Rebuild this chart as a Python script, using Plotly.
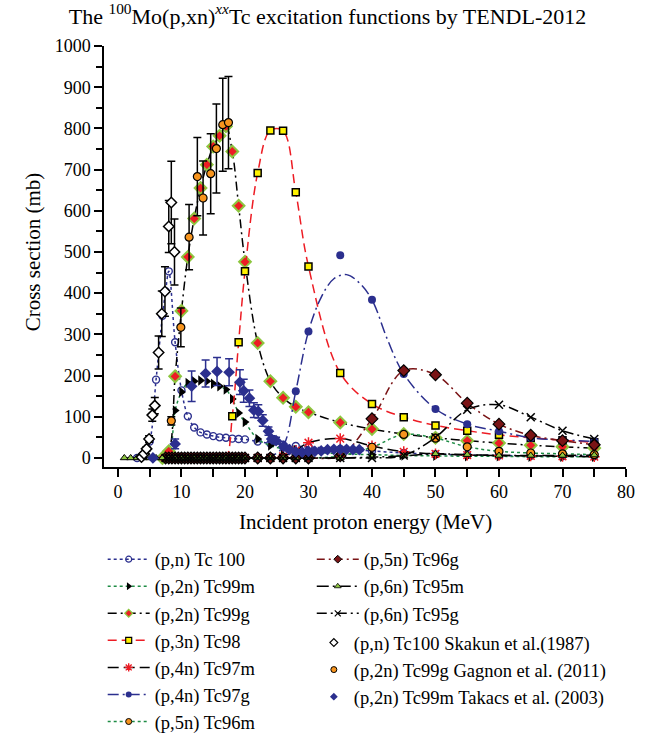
import plotly.graph_objects as go

FONT = "Liberation Serif, Times New Roman, DejaVu Serif, serif"

# ---------------- TENDL-2012 calculations ----------------
E_tc100 = [3, 4, 5, 6, 7, 7.5, 8, 9, 10, 11, 12, 13, 14, 15, 16, 17, 18, 19, 20, 22, 24, 26, 28, 30, 35, 40, 45, 50, 55, 60, 65, 70, 75]
S_tc100 = [0, 5, 40, 190, 345, 405, 453, 281, 164, 101, 74, 62, 57, 53, 50, 49, 47, 46, 45, 40, 35, 32, 29, 27, 22, 17, 12, 9, 7, 6, 5, 4, 4]

E_tc99m = [7, 8, 9, 10, 11, 12, 13, 14, 15, 16, 17, 18, 19, 20, 22, 24, 26, 28, 30, 35, 40, 45, 50, 55, 60, 65, 70, 75]
S_tc99m = [0, 5, 115, 160, 182, 186, 188, 186, 180, 174, 166, 143, 109, 87, 46, 30, 22, 18, 15, 10, 8, 6, 5, 4, 4, 3, 3, 3]

E_tc99g = [7, 8, 9, 10, 11, 12, 13, 14, 15, 16, 17, 18, 19, 20, 22, 24, 26, 28, 30, 35, 40, 45, 50, 55, 60, 65, 70, 75]
S_tc99g = [0, 16, 198, 357, 488, 581, 655, 712, 756, 782, 805, 744, 612, 476, 279, 186, 146, 124, 111, 86, 70, 58, 49, 42, 36, 31, 27, 24]

E_tc98 = [8, 9, 10, 11, 12, 13, 14, 15, 16, 17, 18, 19, 20, 22, 24, 26, 28, 30, 35, 40, 45, 50, 55, 60, 65, 70, 75]
S_tc98 = [0, 0, 0, 0, 0, 0, 0, 0, 0, 0, 101, 281, 453, 692, 795, 794, 645, 465, 206, 131, 99, 79, 66, 56, 49, 43, 38]

E_tc97m = [8, 9, 10, 11, 12, 13, 14, 15, 16, 17, 18, 19, 20, 22, 24, 26, 28, 30, 35, 40, 45, 50, 55, 60, 65, 70, 75]
S_tc97m = [0, 0, 0, 0, 0, 0, 0, 0, 0, 0, 0, 0, 0, 0, 0, 4, 18, 37, 47, 29, 15, 10, 7, 6, 5, 4, 3]

E_tc97g = [8, 9, 10, 11, 12, 13, 14, 15, 16, 17, 18, 19, 20, 22, 24, 26, 28, 30, 35, 40, 45, 50, 55, 60, 65, 70, 75]
S_tc97g = [0, 0, 0, 0, 0, 0, 0, 0, 0, 0, 0, 0, 0, 0, 3, 28, 162, 307, 492, 384, 204, 119, 82, 65, 49, 44, 40]
# smoothed TENDL curve drawn through the Tc97g points
E_tc97g_curve = [20, 22, 24, 26, 28, 30, 32, 34, 36, 38, 40, 42.5, 45, 50, 55, 60, 65, 70, 75]
S_tc97g_curve = [0, 0, 3, 28, 162, 307, 390, 435, 445, 425, 384, 285, 204, 119, 82, 65, 49, 44, 40]

E_tc96m = [8, 9, 10, 11, 12, 13, 14, 15, 16, 17, 18, 19, 20, 22, 24, 26, 28, 30, 35, 40, 45, 50, 55, 60, 65, 70, 75]
S_tc96m = [0, 0, 0, 0, 0, 0, 0, 0, 0, 0, 0, 0, 0, 0, 0, 0, 0, 0, 5, 26, 57, 48, 27, 16, 12, 10, 8]

E_zero_fine = [7.5, 8, 8.5, 9, 9.5, 10, 10.5, 11, 11.5, 12, 12.5, 13, 13.5, 14, 14.5, 15, 15.5, 16, 16.5, 17, 17.5, 18, 18.5, 19, 19.5, 20]

E_tc96g = E_zero_fine + [22, 24, 26, 28, 30, 35, 40, 45, 50, 55, 60, 65, 70, 75]
S_tc96g = [0] * len(E_zero_fine) + [0, 0, 0, 0, 0, 5, 95, 212, 202, 133, 82, 55, 42, 32]

E_tc95m = [1, 2, 3, 4, 5, 6, 7, 8, 9, 10, 11, 12, 13, 14, 15, 16, 17, 18, 19, 20, 22, 24, 26, 28, 30, 35, 40, 45, 50, 55, 60, 65, 70, 75]
S_tc95m = [0, 0, 0, 0, 0, 0, 0, 0, 0, 0, 0, 0, 0, 0, 0, 0, 0, 0, 0, 0, 0, 0, 0, 0, 0, 0, 2, 5, 10, 8, 6, 6, 6, 7]

E_tc95g = E_zero_fine + [22, 24, 26, 28, 30, 35, 40, 45, 50, 55, 60, 65, 70, 75]
S_tc95g = [0] * len(E_zero_fine) + [0, 0, 0, 0, 0, 0, 0, 6, 50, 117, 129, 99, 66, 46]

# ---------------- Experimental data ----------------
E_skakun = [3.7, 4.1, 4.5, 4.9, 5.4, 5.8, 6.4, 6.9, 7.4, 8.0, 8.4, 8.9]
S_skakun = [2, 10, 22, 46, 104, 127, 256, 350, 404, 562, 620, 500]
D_skakun = [2, 3, 5, 8, 15, 20, 40, 55, 60, 63, 100, 80]

E_gagnon = [8.4, 9.9, 11.2, 12.5, 13.4, 14.6, 15.5, 16.5, 17.4]
S_gagnon = [90, 317, 536, 683, 631, 690, 751, 809, 814]
D_gagnon = [10, 47, 79, 95, 90, 97, 108, 113, 112]

E_takacs = [5.5, 9.0, 11.6, 13.8, 15.6, 17.5, 19.2, 19.8, 20.7, 21.4, 22.1, 22.8, 23.7, 24.2, 24.9, 26.1, 27.0, 28.0, 29.0, 30.0, 31.0, 32.0, 33.0, 34.0, 35.0, 36.0, 37.0, 38.0]
S_takacs = [0, 34, 174, 205, 210, 208, 184, 163, 145, 116, 113, 91, 65, 46, 42, 28, 20, 15, 14, 16, 16, 17, 20, 21, 21, 21, 20, 20]
D_takacs = [0, 12, 37, 33, 34, 33, 30, 28, 20, 18, 16, 14, 10, 8, 8, 6, 5, 5, 4, 4, 4, 4, 4, 4, 4, 4, 4, 4]

X_TICKS = [0, 10, 20, 30, 40, 50, 60, 70, 80]
Y_TICKS = [0, 100, 200, 300, 400, 500, 600, 700, 800, 900, 1000]

NAVY = "#2B2F8E"
GREEN = "#1E8C45"
LGREEN = "#8DC63F"
RED = "#ED1C24"
YELLOW = "#FFF200"
ORANGE = "#F7941D"
DRED = "#7A1416"

fig = go.Figure()

# style definitions: (name, color, dash, marker-dict(plot), marker-dict(legend), legend)
styles = {
    "tc100": ("(p,n) Tc 100", NAVY, "dot",
              dict(symbol="circle-open", size=7, color=NAVY, line=dict(width=1.4, color=NAVY)),
              dict(symbol="circle-open", size=6, color=NAVY, line=dict(width=1.2, color=NAVY)), "legend"),
    "tc99m": ("(p,2n) Tc99m", GREEN, "dot",
              dict(symbol="triangle-right", size=9, color="black", line=dict(width=0)),
              dict(symbol="triangle-right", size=7, color="black", line=dict(width=0)), "legend"),
    "tc99g": ("(p,2n) Tc99g", "black", "9px,4px,2px,4px",
              dict(symbol="diamond", size=9, color=RED, line=dict(width=2, color=LGREEN)),
              dict(symbol="diamond", size=6, color=RED, line=dict(width=1.3, color=LGREEN)), "legend"),
    "tc98": ("(p,3n) Tc98", RED, "9px,5px",
             dict(symbol="square", size=7, color=YELLOW, line=dict(width=1.5, color="black")),
             dict(symbol="square", size=6, color=YELLOW, line=dict(width=1.2, color="black")), "legend"),
    "tc97m": ("(p,4n) Tc97m", "black", "11px,5px",
              dict(symbol="asterisk-open", size=9, color=RED, line=dict(width=1.5, color=RED)),
              dict(symbol="asterisk-open", size=7, color=RED, line=dict(width=1.4, color=RED)), "legend"),
    "tc97g": ("(p,4n) Tc97g", NAVY, "11px,4px,2px,4px",
              dict(symbol="circle", size=8, color=NAVY),
              dict(symbol="circle", size=6, color=NAVY), "legend"),
    "tc96m": ("(p,5n) Tc96m", GREEN, "dot",
              dict(symbol="circle", size=8, color=ORANGE, line=dict(width=1.2, color="black")),
              dict(symbol="circle", size=6, color=ORANGE, line=dict(width=1, color="black")), "legend"),
    "tc96g": ("(p,5n) Tc96g", DRED, "8px,4px,2px,4px",
              dict(symbol="diamond", size=9, color=DRED, line=dict(width=1.2, color="black")),
              dict(symbol="diamond", size=6, color=DRED, line=dict(width=1, color="black")), "legend2"),
    "tc95m": ("(p,6n) Tc95m", "black", "12px,4px,2px,4px",
              dict(symbol="triangle-up", size=7, color=LGREEN, line=dict(width=1, color="black")),
              dict(symbol="triangle-up", size=6, color=LGREEN, line=dict(width=0.8, color="black")), "legend2"),
    "tc95g": ("(p,6n) Tc95g", "black", "10px,4px,2px,4px",
              dict(symbol="x-thin-open", size=8, color="black", line=dict(width=1.5, color="black")),
              dict(symbol="x-thin-open", size=6, color="black", line=dict(width=1.2, color="black")), "legend2"),
}

series = {
    "tc100": (E_tc100, S_tc100), "tc99m": (E_tc99m, S_tc99m), "tc99g": (E_tc99g, S_tc99g),
    "tc98": (E_tc98, S_tc98), "tc97m": (E_tc97m, S_tc97m), "tc97g": (E_tc97g, S_tc97g),
    "tc96m": (E_tc96m, S_tc96m), "tc96g": (E_tc96g, S_tc96g), "tc95m": (E_tc95m, S_tc95m),
    "tc95g": (E_tc95g, S_tc95g),
}

for key, (name, color, dash, mk, mk_leg, leg) in styles.items():
    x, y = series[key]
    if key == "tc97g":
        fig.add_trace(go.Scatter(x=E_tc97g_curve, y=S_tc97g_curve, mode="lines", showlegend=False,
                                 line=dict(color=color, dash=dash, width=1.5, shape="spline")))
        fig.add_trace(go.Scatter(x=x, y=y, mode="markers", showlegend=False, marker=mk))
    else:
        fig.add_trace(go.Scatter(x=x, y=y, mode="lines+markers", showlegend=False,
                                 line=dict(color=color, dash=dash, width=1.5, shape="spline", smoothing=1.0),
                                 marker=mk))

exp_styles = [
    ("(p,n) Tc100 Skakun et al.(1987)", E_skakun, S_skakun, D_skakun, "black",
     dict(symbol="diamond", size=8, color="white", line=dict(width=1.5, color="black")),
     dict(symbol="diamond", size=6, color="white", line=dict(width=1.2, color="black"))),
    ("(p,2n) Tc99g Gagnon et al. (2011)", E_gagnon, S_gagnon, D_gagnon, "black",
     dict(symbol="circle", size=8, color=ORANGE, line=dict(width=1.2, color="black")),
     dict(symbol="circle", size=6, color=ORANGE, line=dict(width=1, color="black"))),
    ("(p,2n) Tc99m Takacs et al. (2003)", E_takacs, S_takacs, D_takacs, NAVY,
     dict(symbol="diamond", size=9, color=NAVY),
     dict(symbol="diamond", size=6, color=NAVY)),
]
for name, x, y, d, ecol, mk, mk_leg in exp_styles:
    fig.add_trace(go.Scatter(x=x, y=y, mode="markers", showlegend=False,
                             error_y=dict(type="data", array=d, color=ecol, thickness=1.5, width=4),
                             marker=mk))

# legend entries (small sample markers, as in the reference)
for key, (name, color, dash, mk, mk_leg, leg) in styles.items():
    fig.add_trace(go.Scatter(x=[None], y=[None], name=name, mode="lines+markers", legend=leg,
                             line=dict(color=color, dash=dash, width=1.5), marker=mk_leg))
for name, x, y, d, ecol, mk, mk_leg in exp_styles:
    fig.add_trace(go.Scatter(x=[None], y=[None], name=name, mode="markers", legend="legend3", marker=mk_leg))

leg_common = dict(font=dict(family=FONT, size=18.5, color="black"), bgcolor="rgba(0,0,0,0)",
                  xanchor="left", yanchor="top", orientation="v", tracegroupgap=0)

fig.update_layout(
    width=655, height=735,
    margin=dict(l=104, r=29, t=46, b=268, autoexpand=False),
    paper_bgcolor="white", plot_bgcolor="white",
    font=dict(family=FONT, color="black"),
    title=dict(text="The <sup>100</sup>Mo(p,xn)<sup><i>xx</i></sup>Tc excitation functions by TENDL-2012",
               x=0.5, xref="container", y=1 - 16 / 735, yref="container", yanchor="middle", xanchor="center",
               font=dict(family=FONT, size=22)),
    xaxis=dict(range=[-2.2, 80], tickvals=X_TICKS, ticktext=[str(v) for v in X_TICKS],
               ticks="outside", ticklen=8, tickwidth=1.5, tickcolor="black",
               minor=dict(dtick=5, tick0=0, ticks="outside", ticklen=8, tickwidth=1.5, tickcolor="black"),
               showline=True, linewidth=1.5, linecolor="black", showgrid=False, zeroline=False,
               tickfont=dict(family=FONT, size=18)),
    yaxis=dict(range=[-22, 1000], tickvals=Y_TICKS, ticktext=[str(v) for v in Y_TICKS],
               ticks="outside", ticklen=8, tickwidth=1.5, tickcolor="black",
               minor=dict(dtick=50, tick0=0, ticks="outside", ticklen=6, tickwidth=1.5, tickcolor="black"),
               showline=True, linewidth=1.5, linecolor="black", showgrid=False, zeroline=False,
               tickfont=dict(family=FONT, size=18)),
    legend=dict(x=-0.0025, y=-0.175, itemwidth=42, **leg_common),
    legend2=dict(x=0.398, y=-0.175, itemwidth=42, **leg_common),
    legend3=dict(x=0.402, y=-0.373, itemwidth=30, **leg_common),
    annotations=[
        dict(text="Incident proton energy (MeV)", xref="paper", yref="paper", x=0.5, y=-0.1306,
             xanchor="center", yanchor="middle", showarrow=False, font=dict(family=FONT, size=21)),
        dict(text="Cross section (mb)", xref="paper", yref="paper", x=-0.136, y=0.51, textangle=-90,
             xanchor="center", yanchor="middle", showarrow=False, font=dict(family=FONT, size=21)),
    ],
)

fig.write_html("out.html")
